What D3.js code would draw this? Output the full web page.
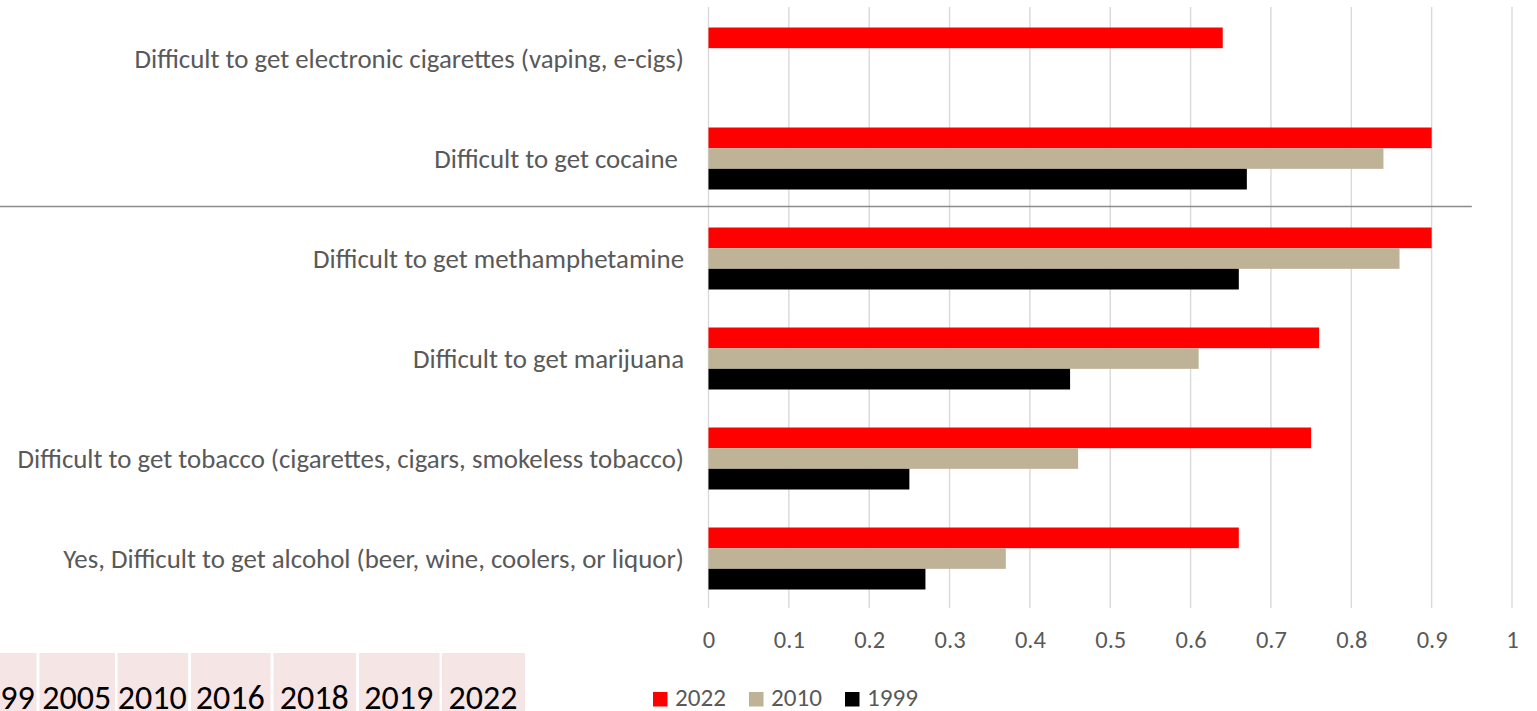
<!DOCTYPE html>
<html>
<head>
<meta charset="utf-8">
<script src="https://cdn.jsdelivr.net/npm/d3@7"></script>
<style>
  html, body { margin: 0; padding: 0; background: #fff; overflow: hidden; }
  svg { display: block; }
  text { font-family: Carlito, Lato, "Open Sans", sans-serif; white-space: pre; }
</style>
</head>
<body>
<svg id="chart" width="1537" height="711"></svg>
<script>
// ---- data ----
const categories = [
  "Difficult to get electronic cigarettes (vaping, e-cigs)",
  "Difficult to get cocaine ",
  "Difficult to get methamphetamine",
  "Difficult to get marijuana",
  "Difficult to get tobacco (cigarettes, cigars, smokeless tobacco)",
  "Yes, Difficult to get alcohol (beer, wine, coolers, or liquor)"
];
const seriesNames = ["2022", "2010", "1999"];
const values2022 = [0.64, 0.90, 0.90, 0.76, 0.75, 0.66];
const values2010 = [null, 0.84, 0.86, 0.61, 0.46, 0.37];
const values1999 = [null, 0.67, 0.66, 0.45, 0.25, 0.27];
const xTicks = [0, 0.1, 0.2, 0.3, 0.4, 0.5, 0.6, 0.7, 0.8, 0.9, 1];
const tableYears = ["1999", "2005", "2010", "2016", "2018", "2019", "2022"];

// ---- styles / layout ----
const colors = { "2022": "#ff0000", "2010": "#beb297", "1999": "#000000" };
const textGray = "#595959";
const seriesValues = { "2022": values2022, "2010": values2010, "1999": values1999 };

const svg = d3.select("#chart");

// font fitting helper: returns font size so that `str` has width `target`
function fitSize(str, target) {
  const t = svg.append("text").attr("font-size", 100).text(str);
  const w = t.node().getComputedTextLength();
  t.remove();
  return 100 * target / w;
}
const labelSize = fitSize("Difficult to get tobacco (cigarettes, cigars, smokeless tobacco)", 667);
const tickSize = fitSize("0.1", 31);
const legendSize = fitSize("2022", 51);
const tableSize = fitSize("2005", 69);

const x = d3.scaleLinear().domain([0, 1]).range([708.5, 1512]);
const y = d3.scaleBand().domain(categories).range([8.5, 608.5]).padding(0);
const yInner = d3.scaleBand().domain(seriesNames).range([0, y.bandwidth()]).paddingInner(0).paddingOuter(0.92);

// gridlines
svg.append("g").selectAll("line").data(xTicks).join("line")
  .attr("x1", d => x(d)).attr("x2", d => x(d))
  .attr("y1", 7).attr("y2", 608)
  .attr("stroke", "#d9d9d9").attr("stroke-width", 1.4);

// stray horizontal rule
svg.append("line")
  .attr("x1", 0).attr("x2", x(0.95))
  .attr("y1", y(categories[2]) - 2).attr("y2", y(categories[2]) - 2)
  .attr("stroke", "#8c8c8c").attr("stroke-width", 1.3);

// bars
const rows = [];
categories.forEach((c, i) => seriesNames.forEach(s => {
  const v = seriesValues[s][i];
  if (v != null) rows.push({ c, s, v });
}));
svg.append("g").selectAll("rect").data(rows).join("rect")
  .attr("x", x(0))
  .attr("y", d => y(d.c) + yInner(d.s))
  .attr("width", d => x(d.v) - x(0))
  .attr("height", yInner.bandwidth())
  .attr("fill", d => colors[d.s]);

// category labels
svg.append("g").selectAll("text").data(categories).join("text")
  .attr("x", 684)
  .attr("y", d => y(d) + y.bandwidth() / 2)
  .attr("text-anchor", "end")
  .attr("dominant-baseline", "central")
  .attr("font-size", labelSize)
  .attr("fill", textGray)
  .text(d => d);

// x axis tick labels
const xAxis = d3.axisBottom(x).tickValues(xTicks).tickSize(0).tickPadding(0)
  .tickFormat(d => d3.format("~g")(d));
const gx = svg.append("g").attr("transform", "translate(0,631)").call(xAxis);
gx.select(".domain").remove();
gx.attr("font-family", null).attr("font-size", null);
gx.selectAll("text").attr("font-size", tickSize).attr("fill", textGray).attr("dy", "0.71em");

// legend
const legendX = [653, 749, 845];
const lg = svg.append("g").selectAll("g").data(seriesNames).join("g")
  .attr("transform", (d, i) => `translate(${legendX[i]},692)`);
lg.append("rect").attr("width", 14.5).attr("height", 14.5).attr("fill", d => colors[d]);
lg.append("text").attr("x", 22).attr("y", 14)
  .attr("font-size", legendSize).attr("fill", textGray).text(d => d);

// bottom table (cropped)
const colLefts = [-35, 39.5, 117.5, 191, 273.5, 359, 442];
const colRights = [36.5, 115, 188, 270.5, 356, 439.5, 525];
const tg = svg.append("g").selectAll("g").data(tableYears).join("g");
tg.append("rect")
  .attr("x", (d, i) => colLefts[i]).attr("y", 653)
  .attr("width", (d, i) => colRights[i] - colLefts[i]).attr("height", 60)
  .attr("fill", "#f6e5e5");
tg.append("text")
  .attr("x", (d, i) => (colLefts[i] + colRights[i]) / 2 - 0.5).attr("y", 708.5)
  .attr("text-anchor", "middle")
  .attr("font-size", tableSize).attr("fill", "#000").text(d => d);
</script>
</body>
</html>
